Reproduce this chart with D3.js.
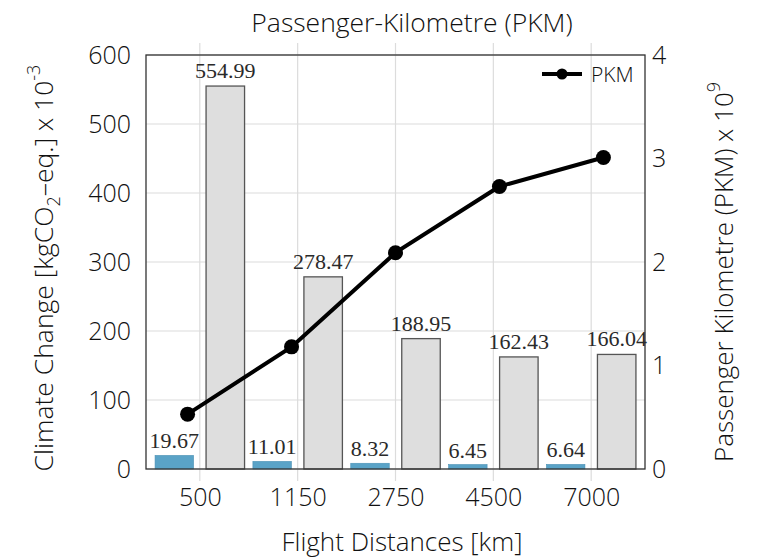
<!DOCTYPE html>
<html>
<head>
<meta charset="utf-8">
<script src="https://cdn.jsdelivr.net/npm/d3@7"></script>
<style>
  body { margin: 0; background: #fff; }
  svg { display: block; }
  .sans { font-family: 'Open Sans', 'Noto Sans', sans-serif; font-weight: 300; fill: #111; }
  .serif { font-family: 'Liberation Serif', 'DejaVu Serif', serif; fill: #2a2a2a; }
</style>
</head>
<body>
<div id="chart"></div>
<script>
// chart data
const distances = ['500', '1150', '2750', '4500', '7000'];
const climateBlue = [19.67, 11.01, 8.32, 6.45, 6.64];
const climateGray = [554.99, 278.47, 188.95, 162.43, 166.04];
const pkm = [0.53, 1.18, 2.09, 2.73, 3.01];
const leftTicks = [0, 100, 200, 300, 400, 500, 600];
const rightTicks = [0, 1, 2, 3, 4];

const width = 761;
const height = 558;

// plot box
const plotLeft = 146;
const plotRight = 645;
const plotTop = 55;
const plotBottom = 469;

const svg = d3.select('#chart')
  .append('svg')
  .attr('width', width)
  .attr('height', height);

const yLeft = d3.scaleLinear().domain([0, 600]).range([plotBottom, plotTop]);
const yRight = d3.scaleLinear().domain([0, 4]).range([plotBottom, plotTop]);
// bars and grid use one spacing, the PKM line another
const xBar = d3.scalePoint().domain(distances).range([plotLeft, plotRight]).padding(0.55);
const xLine = d3.scalePoint().domain(distances).range([plotLeft, plotRight]).padding(0.4);

const barW = 38.5;
const barOff = 25.5;

// grid
svg.append('g')
  .selectAll('line')
  .data(leftTicks)
  .join('line')
  .attr('x1', plotLeft)
  .attr('x2', plotRight)
  .attr('y1', d => yLeft(d))
  .attr('y2', d => yLeft(d))
  .attr('stroke', '#dcdcdc')
  .attr('stroke-width', 1.2);

svg.append('g')
  .selectAll('line')
  .data(distances)
  .join('line')
  .attr('x1', d => xBar(d))
  .attr('x2', d => xBar(d))
  .attr('y1', plotTop - 12)
  .attr('y2', plotBottom + 12)
  .attr('stroke', '#dcdcdc')
  .attr('stroke-width', 1.2);

// bars
svg.append('g')
  .selectAll('rect')
  .data(climateBlue)
  .join('rect')
  .attr('x', (d, i) => xBar(distances[i]) - barOff - barW / 2)
  .attr('y', d => yLeft(d))
  .attr('width', barW)
  .attr('height', d => plotBottom - yLeft(d))
  .attr('fill', '#5aa3c7')
  .attr('stroke', '#4a90b4')
  .attr('stroke-width', 0.6);

svg.append('g')
  .selectAll('rect')
  .data(climateGray)
  .join('rect')
  .attr('x', (d, i) => xBar(distances[i]) + barOff - barW / 2)
  .attr('y', d => yLeft(d))
  .attr('width', barW)
  .attr('height', d => plotBottom - yLeft(d))
  .attr('fill', '#dedede')
  .attr('stroke', '#555')
  .attr('stroke-width', 1.3);

// value labels
svg.append('g')
  .selectAll('text')
  .data(climateBlue)
  .join('text')
  .attr('class', 'serif')
  .attr('x', (d, i) => xBar(distances[i]) - barOff)
  .attr('y', d => yLeft(d) - 7)
  .attr('text-anchor', 'middle')
  .style('font-size', '22px')
  .text(d => d.toFixed(2));

svg.append('g')
  .selectAll('text')
  .data(climateGray)
  .join('text')
  .attr('class', 'serif')
  .attr('x', (d, i) => xBar(distances[i]) + barOff)
  .attr('y', d => yLeft(d) - 8)
  .attr('text-anchor', 'middle')
  .style('font-size', '22px')
  .text(d => d.toFixed(2));

// frame
svg.append('rect')
  .attr('x', plotLeft)
  .attr('y', plotTop)
  .attr('width', plotRight - plotLeft)
  .attr('height', plotBottom - plotTop)
  .attr('fill', 'none')
  .attr('stroke', '#333')
  .attr('stroke-width', 1.3);

// PKM line
const line = d3.line()
  .x((d, i) => xLine(distances[i]))
  .y(d => yRight(d));

svg.append('path')
  .datum(pkm)
  .attr('d', line)
  .attr('fill', 'none')
  .attr('stroke', '#000')
  .attr('stroke-width', 4);

svg.append('g')
  .selectAll('circle')
  .data(pkm)
  .join('circle')
  .attr('cx', (d, i) => xLine(distances[i]))
  .attr('cy', d => yRight(d))
  .attr('r', 7.5)
  .attr('fill', '#000');

// axes
const axL = svg.append('g')
  .attr('transform', `translate(${plotLeft},0)`)
  .call(d3.axisLeft(yLeft).tickValues(leftTicks).tickSize(0).tickPadding(15));
const axR = svg.append('g')
  .attr('transform', `translate(${plotRight},0)`)
  .call(d3.axisRight(yRight).tickValues(rightTicks).tickFormat(d3.format('d')).tickSize(0).tickPadding(7));
const axB = svg.append('g')
  .attr('transform', `translate(0,${plotBottom})`)
  .call(d3.axisBottom(xBar).tickSize(0).tickPadding(19));

[axL, axR, axB].forEach(ax => {
  ax.select('.domain').remove();
  ax.selectAll('text')
    .attr('class', 'sans')
    .style('font-size', '25px')
    .attr('fill', '#111');
});

// titles
svg.append('text')
  .attr('class', 'sans')
  .attr('x', 412)
  .attr('y', 32)
  .attr('text-anchor', 'middle')
  .style('font-size', '26.5px')
  .text('Passenger-Kilometre (PKM)');

svg.append('text')
  .attr('class', 'sans')
  .attr('x', 402)
  .attr('y', 551)
  .attr('text-anchor', 'middle')
  .style('font-size', '26px')
  .text('Flight Distances [km]');

const yLab = svg.append('text')
  .attr('class', 'sans')
  .attr('transform', 'translate(53,268) rotate(-90)')
  .attr('text-anchor', 'middle')
  .style('font-size', '26.5px');
yLab.append('tspan').text('Climate Change [kgCO');
yLab.append('tspan').attr('dy', 7).style('font-size', '18px').text('2');
yLab.append('tspan').attr('dy', -7).text('\u2013eq.] x 10');
yLab.append('tspan').attr('dy', -13).style('font-size', '18px').text('-3');

const rLab = svg.append('text')
  .attr('class', 'sans')
  .attr('transform', 'translate(733,272) rotate(-90)')
  .attr('text-anchor', 'middle')
  .style('font-size', '26px');
rLab.append('tspan').text('Passenger Kilometre (PKM) x 10');
rLab.append('tspan').attr('dy', -13).style('font-size', '18px').text('9');

// legend
const leg = svg.append('g').attr('transform', 'translate(542,74)');
leg.append('line')
  .attr('x1', 0)
  .attr('x2', 40)
  .attr('stroke', '#000')
  .attr('stroke-width', 4);
leg.append('circle').attr('cx', 20).attr('r', 5.5).attr('fill', '#000');
leg.append('text')
  .attr('class', 'sans')
  .attr('x', 49)
  .attr('y', 8)
  .style('font-size', '21px')
  .text('PKM');
</script>
</body>
</html>
